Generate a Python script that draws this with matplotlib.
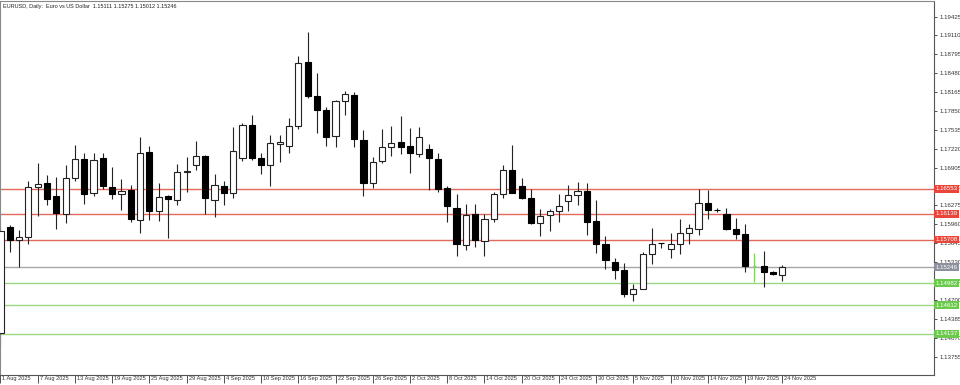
import matplotlib
matplotlib.use("Agg")
import matplotlib.pyplot as plt
import matplotlib.transforms as mtransforms
from matplotlib import font_manager
import numpy as np

_names = {f.name for f in font_manager.fontManager.ttflist}
if "Liberation Sans Narrow" in _names:
    FONT = "Liberation Sans Narrow"; SCALE = 1.0
else:
    FONT = "Liberation Sans"; SCALE = 0.82
plt.rcParams['font.family'] = [FONT, 'DejaVu Sans']

title = "EURUSD, Daily:  Euro vs US Dollar  1.15111 1.15275 1.15012 1.15246"

opens = [1.14142, 1.15914, 1.15708, 1.15742, 1.16591, 1.16652, 1.16441, 1.16136, 1.16736, 1.17052,
         1.16486, 1.17064, 1.16591, 1.16464, 1.16525, 1.16041, 1.17175, 1.16180, 1.16425, 1.16369,
         1.16830, 1.16958, 1.17102, 1.16369, 1.16597, 1.16486, 1.17069, 1.17614, 1.17064, 1.16953,
         1.17302, 1.17275, 1.17597, 1.18664, 1.18108, 1.17869, 1.17436, 1.18025, 1.18125, 1.17375,
         1.16647, 1.17025, 1.17258, 1.17328, 1.17262, 1.17136, 1.17220, 1.17053, 1.16564, 1.16231,
         1.15609, 1.16136, 1.15681, 1.16042, 1.16470, 1.16859, 1.16597, 1.16403, 1.15986, 1.16109,
         1.16175, 1.16342, 1.16442, 1.16509, 1.16009, 1.15636, 1.15331, 1.15192, 1.14803, 1.14886,
         1.15470, 1.15650, 1.15553, 1.15625, 1.15820, 1.15886, 1.16320, 1.16205, 1.16136, 1.15886,
         1.15792, 1.15259, 1.15264, 1.15164, 1.15111]
highs = [1.15920, 1.15958, 1.15869, 1.16680, 1.16980, 1.16786, 1.16747, 1.16958, 1.17291, 1.17147,
         1.17147, 1.17147, 1.16925, 1.16719, 1.16619, 1.17414, 1.17275, 1.16647, 1.16458, 1.16969,
         1.17080, 1.17358, 1.17119, 1.16803, 1.16691, 1.17580, 1.17647, 1.17786, 1.17147, 1.17458,
         1.17452, 1.17730, 1.18775, 1.19164, 1.18480, 1.17925, 1.18030, 1.18191, 1.18164, 1.17536,
         1.17080, 1.17552, 1.17602, 1.17775, 1.17575, 1.17580, 1.17292, 1.17153, 1.16597, 1.16470,
         1.16303, 1.16292, 1.16136, 1.16498, 1.16942, 1.17286, 1.16736, 1.16542, 1.16220, 1.16209,
         1.16470, 1.16609, 1.16675, 1.16653, 1.16359, 1.15759, 1.15403, 1.15314, 1.14970, 1.15497,
         1.15898, 1.15656, 1.15820, 1.16053, 1.15970, 1.16553, 1.16525, 1.16236, 1.16236, 1.16064,
         1.15970, 1.15486, 1.15514, 1.15180, 1.15275]
lows = [1.13940, 1.15497, 1.15258, 1.15636, 1.16097, 1.16275, 1.15886, 1.15980, 1.16680, 1.16302,
        1.16441, 1.16553, 1.16386, 1.16202, 1.16008, 1.15819, 1.16025, 1.16014, 1.15730, 1.16286,
        1.16497, 1.16875, 1.16125, 1.16080, 1.16286, 1.16402, 1.17025, 1.17036, 1.16803, 1.16597,
        1.16997, 1.17147, 1.17552, 1.18069, 1.17486, 1.17275, 1.17247, 1.17786, 1.17258, 1.16441,
        1.16564, 1.16980, 1.17108, 1.17140, 1.16825, 1.17085, 1.16525, 1.16498, 1.15998, 1.15425,
        1.15525, 1.15581, 1.15425, 1.15998, 1.16403, 1.16480, 1.16386, 1.15970, 1.15764, 1.15848,
        1.15998, 1.16175, 1.16275, 1.15775, 1.15486, 1.15220, 1.15042, 1.14748, 1.14681, 1.14875,
        1.15292, 1.15570, 1.15403, 1.15470, 1.15625, 1.15786, 1.16053, 1.16164, 1.15859, 1.15709,
        1.15164, 1.14997, 1.14914, 1.15109, 1.15012]
closes = [1.15858, 1.15708, 1.15747, 1.16591, 1.16636, 1.16391, 1.16147, 1.16741, 1.17052, 1.16464,
          1.17030, 1.16597, 1.16464, 1.16514, 1.16053, 1.17152, 1.16175, 1.16414, 1.16375, 1.16841,
          1.16847, 1.17102, 1.16397, 1.16619, 1.16491, 1.17180, 1.17625, 1.17075, 1.16947, 1.17319,
          1.17336, 1.17597, 1.18652, 1.18108, 1.17869, 1.17425, 1.18019, 1.18136, 1.17380, 1.16647,
          1.16997, 1.17258, 1.17319, 1.17255, 1.17150, 1.17420, 1.17070, 1.16553, 1.16259, 1.15636,
          1.16120, 1.15692, 1.16053, 1.16470, 1.16859, 1.16487, 1.16403, 1.15986, 1.16098, 1.16175,
          1.16270, 1.16442, 1.16509, 1.15998, 1.15636, 1.15370, 1.15192, 1.14792, 1.14886, 1.15470,
          1.15636, 1.15645, 1.15636, 1.15820, 1.15898, 1.16320, 1.16203, 1.16203, 1.15875, 1.15792,
          1.15259, 1.15259, 1.15164, 1.15125, 1.15246]
special_bar = 81  # thin green bar

date_labels = ["1 Aug 2025", "7 Aug 2025", "13 Aug 2025", "19 Aug 2025", "25 Aug 2025", "29 Aug 2025",
               "4 Sep 2025", "10 Sep 2025", "16 Sep 2025", "22 Sep 2025", "26 Sep 2025", "2 Oct 2025",
               "8 Oct 2025", "14 Oct 2025", "20 Oct 2025", "24 Oct 2025", "30 Oct 2025", "5 Nov 2025",
               "10 Nov 2025", "14 Nov 2025", "19 Nov 2025", "24 Nov 2025"]
date_step = 4

price_ticks = [1.19425, 1.19110, 1.18795, 1.18480, 1.18165, 1.17850, 1.17535, 1.17220, 1.16905,
               1.16590, 1.16275, 1.15960, 1.15645, 1.15330, 1.15015, 1.14700, 1.14385, 1.14070, 1.13755]

levels = [1.16553, 1.16139, 1.15708, 1.15246, 1.14982, 1.14612, 1.14137]
level_kind = ["red", "red", "red", "gray", "green", "green", "green"]

line_col = {"red": "#e2685c", "gray": "#a8a8a8", "green": "#9ad884"}
box_col = {"red": "#e8463a", "gray": "#8c919b", "green": "#6cc94e"}

FS_PRICE = 5.4 * SCALE
FS_DATE = 4.9 * SCALE
FS_TITLE = 4.8 * SCALE

fig = plt.figure(figsize=(9.6, 3.85), dpi=100)
ax = fig.add_axes([0.0, 10.5 / 385, 934 / 960, 1 - 10.5 / 385 - 0.5 / 385])
ax.set_xlim(-0.05, 100.3)
ax.set_ylim(1.13458, 1.19692)

n = len(opens)
x = np.arange(n)
o = np.array(opens); c = np.array(closes); h = np.array(highs); l = np.array(lows)

# horizontal levels
for lv, k in zip(levels, level_kind):
    ax.axhline(lv, color=line_col[k], lw=1.0, zorder=1)

normal = np.array([i != special_bar for i in range(n)])
up = (c >= o) & normal
dn = (c < o) & normal

ax.vlines(x[normal], l[normal], h[normal], color="#222222", lw=0.8, zorder=2)
bottoms = np.minimum(o, c)
heights = np.maximum(np.abs(c - o), 0.00003)
ax.bar(x[up], heights[up], bottom=bottoms[up], width=0.66, facecolor="white",
       edgecolor="#222222", linewidth=0.8, zorder=3)
ax.bar(x[dn], heights[dn], bottom=bottoms[dn], width=0.66, facecolor="black",
       edgecolor="black", linewidth=0.8, zorder=3)

# special thin green bar
sb = special_bar
ax.vlines([x[sb]], [l[sb]], [h[sb]], color="#7fd060", lw=0.9, zorder=2)
ax.hlines([c[sb]], [x[sb] - 0.15], [x[sb] + 0.15], color="#7fd060", lw=0.9, zorder=2)

# axes styling
for s in ["top", "left"]:
    ax.spines[s].set_color("#888888")
    ax.spines[s].set_linewidth(0.8)
for s in ["right", "bottom"]:
    ax.spines[s].set_color("#555555")
    ax.spines[s].set_linewidth(0.8)

ax.yaxis.tick_right()
ax.set_yticks(price_ticks)
ax.set_yticklabels([f"{p:.5f}" for p in price_ticks])
ax.tick_params(axis="y", length=2.5, width=0.6, pad=1.2, labelsize=FS_PRICE, colors="#333333")

xt = np.arange(0, n, date_step)
ax.set_xticks(xt)
ax.set_xticklabels(date_labels)
ax.tick_params(axis="x", length=6, width=0.6, pad=-4.6, labelsize=FS_DATE, colors="#333333")
off = mtransforms.ScaledTranslation(2.0 / 100, 0, fig.dpi_scale_trans)
for lbl in ax.get_xticklabels():
    lbl.set_horizontalalignment("left")
    lbl.set_transform(lbl.get_transform() + off)

# coloured price boxes
btrans = mtransforms.blended_transform_factory(ax.transAxes, ax.transData)
for lv, k in zip(levels, level_kind):
    ax.text(1.0012, lv, f"{lv:.5f}", transform=btrans, fontsize=FS_PRICE, color="white",
            va="center", ha="left", clip_on=False, zorder=10,
            bbox=dict(boxstyle="square,pad=0.22", facecolor=box_col[k], edgecolor="none"))

ax.text(0.003, 0.99, title, transform=ax.transAxes, fontsize=FS_TITLE, color="#222222",
        ha="left", va="top")

fig.savefig("out.png", dpi=100, facecolor="white")
